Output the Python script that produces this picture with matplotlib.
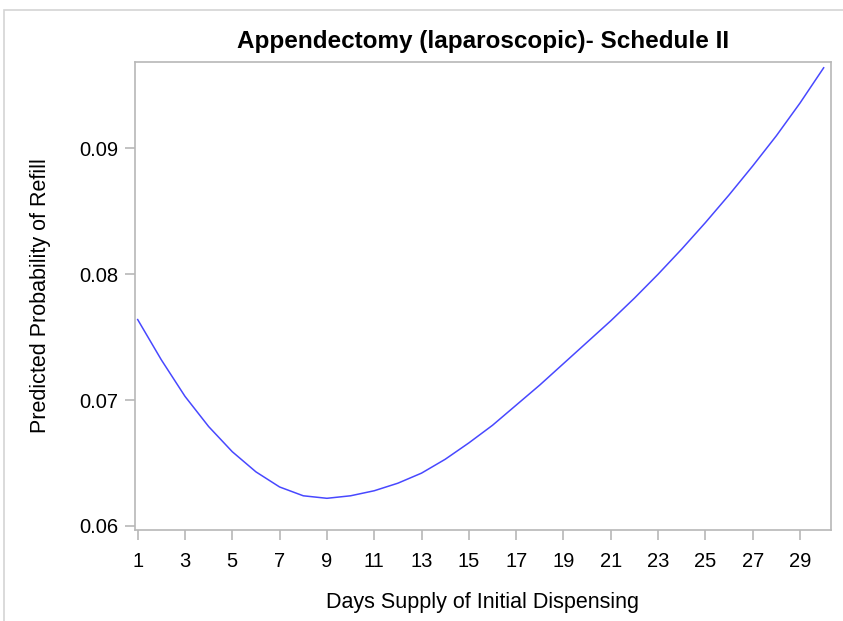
import matplotlib
matplotlib.use("Agg")
import matplotlib.pyplot as plt
from matplotlib.patches import Rectangle

days = list(range(1, 31))
prob = [0.0764, 0.0732, 0.0703, 0.0679, 0.0659, 0.0643, 0.0631, 0.0624, 0.0622, 0.0624,
        0.0628, 0.0634, 0.0642, 0.0653, 0.0666, 0.0680, 0.0696, 0.0712, 0.0729, 0.0746,
        0.0763, 0.0781, 0.0800, 0.0820, 0.0841, 0.0863, 0.0886, 0.0910, 0.0936, 0.0964]
xticks = list(range(1, 30, 2))
yticks = [0.06, 0.07, 0.08, 0.09]
ytick_labels = ["0.06", "0.07", "0.08", "0.09"]

plt.rcParams['font.family'] = ['Liberation Sans', 'DejaVu Sans']

W, H = 843, 621
fig = plt.figure(figsize=(W / 100, H / 100), dpi=100)
fig.patches.append(Rectangle((4 / W, -0.1), 1.2, 1 - 10 / H + 0.1, transform=fig.transFigure,
                             fill=False, edgecolor='#d4d4d4', linewidth=1.2, zorder=-1))

ax = fig.add_axes([135 / W, 1 - 530 / H, (831 - 135) / W, (530 - 62) / H])
ax.plot(days, prob, color='#4848ff', linewidth=1.1)

ax.set_xlim(0.887, 30.31)
ax.set_ylim(0.059682, 0.09686)
ax.set_xticks(xticks)
ax.set_xticklabels([str(t) for t in xticks])
ax.set_yticks(yticks)
ax.set_yticklabels(ytick_labels)

for s in ax.spines.values():
    s.set_color('#b8b8b8')
    s.set_linewidth(1.2)
ax.tick_params(axis='both', colors='#b8b8b8', labelcolor='black', labelsize=14.5,
               length=7, width=1.2)
ax.tick_params(axis='x', pad=9)
ax.tick_params(axis='y', pad=5)

ax.set_xlabel("Days Supply of Initial Dispensing", fontsize=15.5, labelpad=15)
ax.set_ylabel("Predicted Probability of Refill", fontsize=15.5, labelpad=20)
ax.set_title("Appendectomy (laparoscopic)- Schedule II", fontsize=17.5, fontweight='bold', pad=10)

fig.savefig("out.png", dpi=100)
